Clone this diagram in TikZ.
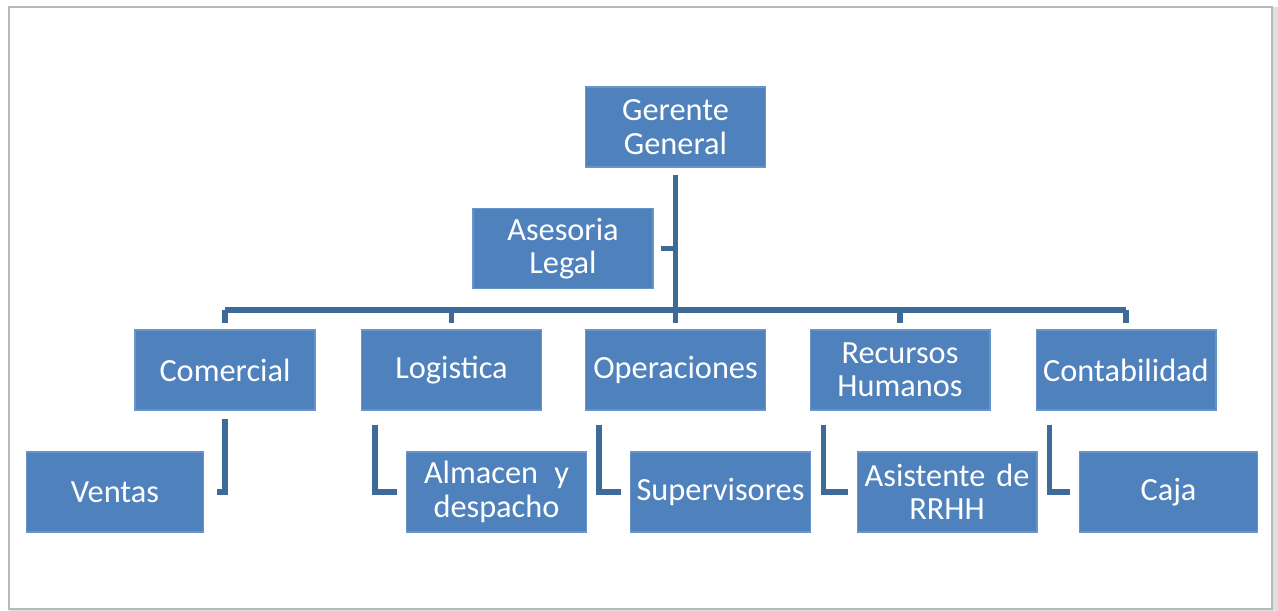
\documentclass[tikz,border=0pt]{standalone}
\usepackage{fontspec}
\setmainfont{Carlito}
\usetikzlibrary{positioning}

\definecolor{boxblue}{HTML}{4F81BD}
\definecolor{linkblue}{HTML}{3E6A9A}

\tikzset{
  unit/.style={fill=boxblue, draw=boxblue!85!white, line width=0.6pt, text=white,
    minimum width=3.6cm, minimum height=1.6cm, inner sep=0pt,
    text width=3.55cm, align=center, font=\fontsize{18.4}{19}\selectfont},
  link/.style={draw=linkblue, line width=3.3pt}
}

\begin{document}
\begin{tikzpicture}[x=0.02cm,y=-0.02cm]
\useasboundingbox (0,0) rectangle (1278,611);
\def\dx{14}

% frame
\draw[gray!25, line width=3pt] (12,10) rectangle (1275,612);
\draw[gray!55, line width=1.2pt, fill=white] (9,7) rectangle (1272,609);

% top
\node[unit] (gerente) at (675.5,127) {Gerente\\General};
\node[unit] (asesoria) at (563,248.5) {Asesoria\\Legal};

% areas
\node[unit] (comercial) at (225,370) {Comercial};
\node[unit] (logistica) at (451.5,370) {Logistica};
\node[unit] (operaciones) at (675.5,370) {Operaciones};
\node[unit] (rrhh) at (900,370) {Recursos\\Humanos};
\node[unit] (contab) at (1126,370) {Contabilidad};

% sub areas
\node[unit, minimum width=3.52cm] (ventas) at (115,492) {Ventas};
\node[unit] (almacen) at (496.5,492) {Almacen\enspace y\\despacho};
\node[unit] (supervisores) at (720.5,492) {Supervisores};
\node[unit] (asistente) at (947,492) {Asistente de\\RRHH};
\node[unit, minimum width=3.46cm] (caja) at (1168.5,492) {Caja};

% links
\coordinate (bus) at (675.5,310);
\draw[link] (gerente.south) ++(0,7) -- (bus);
\draw[link] (asesoria.east) ++(7,0) -- (asesoria.east -| gerente.south);
\draw[link] (comercial.north |- bus) -- (contab.north |- bus);
\foreach \n in {comercial,logistica,operaciones,rrhh,contab}
  \draw[link, shorten >=0.12cm] (\n.north |- bus) -- (\n.north);

\draw[link] (comercial.south) ++(0,8) |- ([xshift=7]ventas.east);
\draw[link] ([xshift=\dx*0.02cm, yshift=-8]logistica.south west) |- ([xshift=-5]almacen.west);
\draw[link] ([xshift=\dx*0.02cm, yshift=-8]operaciones.south west) |- ([xshift=-5]supervisores.west);
\draw[link] ([xshift=\dx*0.02cm, yshift=-8]rrhh.south west) |- ([xshift=-5]asistente.west);
\draw[link] ([xshift=\dx*0.02cm, yshift=-8]contab.south west) |- ([xshift=-5]caja.west);
\end{tikzpicture}
\end{document}
